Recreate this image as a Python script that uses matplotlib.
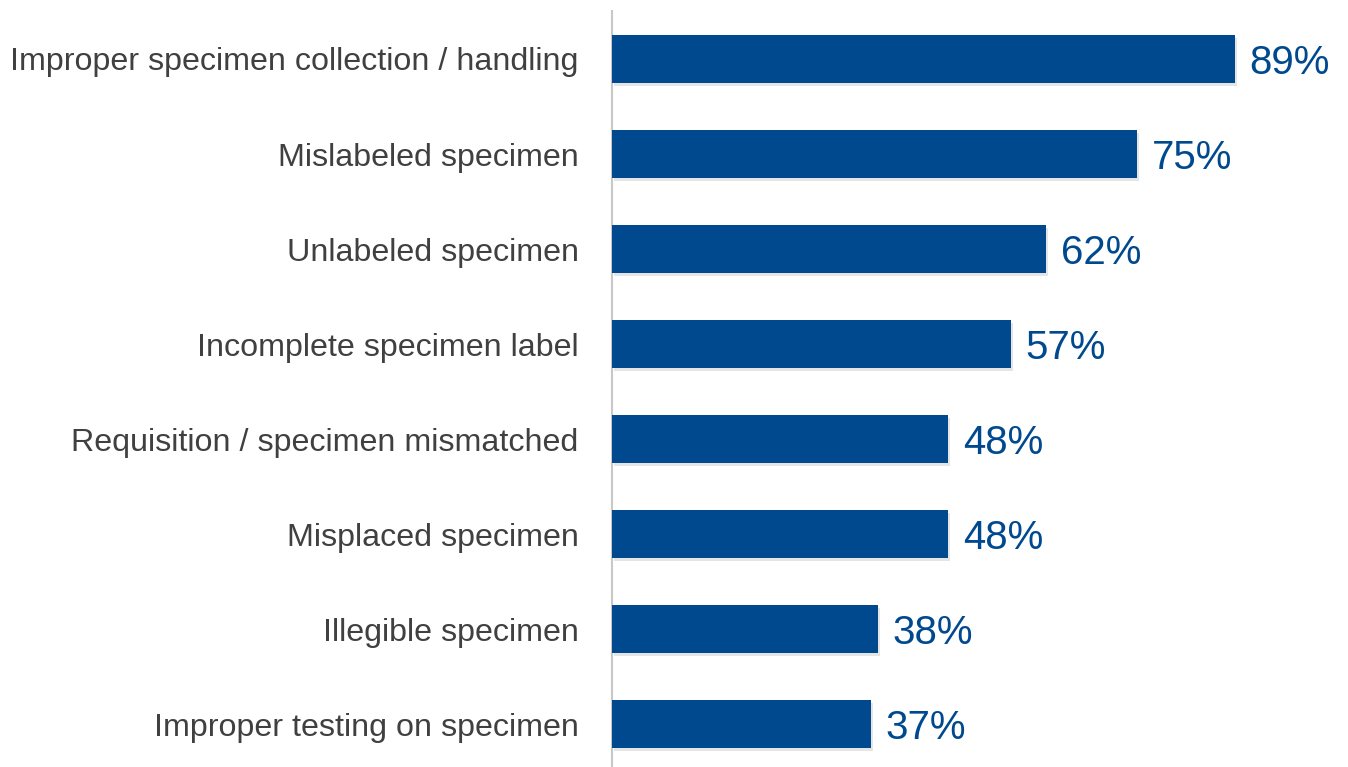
import matplotlib
matplotlib.use('Agg')
import matplotlib.pyplot as plt
import matplotlib.patheffects as pe
import numpy as np

plt.rcParams['font.family'] = ['Liberation Sans', 'DejaVu Sans']

# data
categories = ['Improper specimen collection / handling',
              'Mislabeled specimen',
              'Unlabeled specimen',
              'Incomplete specimen label',
              'Requisition / specimen mismatched',
              'Misplaced specimen',
              'Illegible specimen',
              'Improper testing on specimen']
values = [89, 75, 62, 57, 48, 48, 38, 37]

BAR_COLOR = '#00498e'
TEXT_COLOR = '#404040'

W, H = 1348, 767
fig = plt.figure(figsize=(W/100., H/100.), dpi=100)
ax = fig.add_axes([612./W, 0., 700./W, 756./H])

y = np.arange(len(categories))
bars = ax.barh(y, values, height=0.505, color=BAR_COLOR, zorder=3)
for b in bars:
    b.set_path_effects([pe.SimplePatchShadow(offset=(1.5, -2), shadow_rgbFace='#000000', alpha=0.1),
                        pe.Normal()])

for yi, v in zip(y, values):
    ax.text(v + 2.1, yi, '%i%%' % v, va='center_baseline', ha='left',
            fontsize=29, color=BAR_COLOR)

ax.set_xlim(0, 100)
ax.set_ylim(len(categories) - 0.55, -0.505)
ax.set_yticks(y)
ax.set_yticklabels(categories, fontsize=23.2, color=TEXT_COLOR)
ax.tick_params(axis='y', length=0, pad=24)
ax.set_xticks([])
for s in ['top', 'right', 'bottom']:
    ax.spines[s].set_visible(False)
ax.spines['left'].set_color('#c8c8c8')
ax.spines['left'].set_linewidth(1.5)

fig.savefig('out.png', dpi=100)
